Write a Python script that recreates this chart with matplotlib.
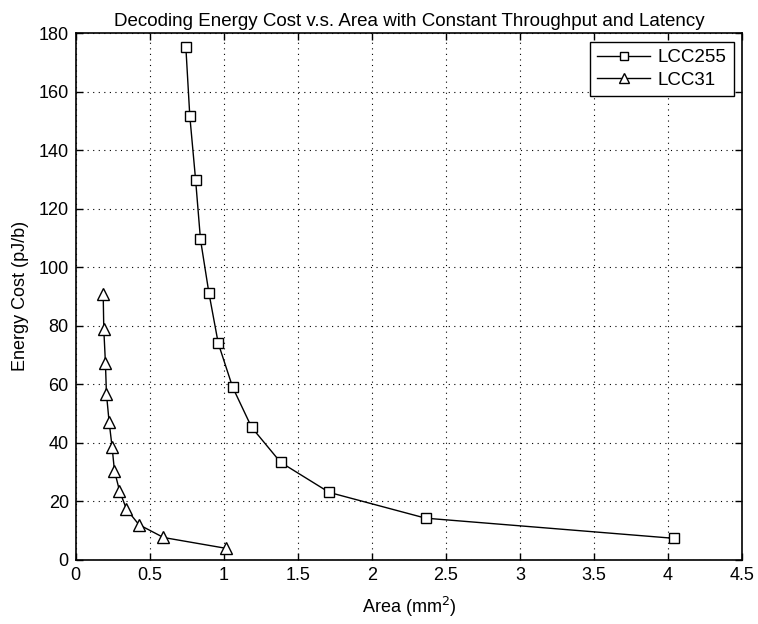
import matplotlib.pyplot as plt

plt.rcParams['font.family'] = ['Liberation Sans', 'DejaVu Sans']

# LCC255 curve
area_255 = [0.743, 0.770, 0.809, 0.842, 0.899, 0.962, 1.059, 1.187, 1.383, 1.712, 2.363, 4.043]
energy_255 = [175.4, 151.6, 129.9, 109.5, 91.2, 74.0, 59.0, 45.3, 33.3, 23.0, 14.2, 7.3]

# LCC31 curve
area_31 = [0.185, 0.189, 0.200, 0.207, 0.225, 0.245, 0.261, 0.295, 0.342, 0.426, 0.592, 1.014]
energy_31 = [90.9, 78.8, 67.4, 56.7, 47.1, 38.6, 30.4, 23.6, 17.3, 12.0, 7.6, 3.9]

xticks = [0, 0.5, 1, 1.5, 2, 2.5, 3, 3.5, 4, 4.5]
xticklabels = ['0', '0.5', '1', '1.5', '2', '2.5', '3', '3.5', '4', '4.5']
yticks = [0, 20, 40, 60, 80, 100, 120, 140, 160, 180]

fig = plt.figure(figsize=(7.58, 6.24), dpi=100)
ax = fig.add_axes([0.100, 0.103, 0.879, 0.844])

ax.plot(area_255, energy_255, color='black', lw=1.0, marker='s', ms=7,
        mfc='white', mec='black', mew=1.0, label='LCC255')
ax.plot(area_31, energy_31, color='black', lw=1.0, marker='^', ms=9,
        mfc='white', mec='black', mew=1.0, label='LCC31')

ax.set_xlim(0, 4.5)
ax.set_ylim(0, 180)
ax.set_xticks(xticks)
ax.set_xticklabels(xticklabels)
ax.set_yticks(yticks)
ax.tick_params(direction='in', top=True, right=True, labelsize=13, length=5, width=1, pad=5)
for s in ax.spines.values():
    s.set_linewidth(1.2)
ax.grid(True, linestyle=(0, (1, 4)), color='black', linewidth=0.8)

ax.set_title('Decoding Energy Cost v.s. Area with Constant Throughput and Latency', fontsize=13.5, pad=5)
ax.set_xlabel('Area (mm$^2$)', fontsize=13, labelpad=8)
ax.set_ylabel('Energy Cost (pJ/b)', fontsize=13, labelpad=7)

leg = ax.legend(loc='upper right', fontsize=13.5, fancybox=False, framealpha=1,
                edgecolor='black', handlelength=2.8, borderaxespad=0.45,
                handletextpad=0.4, labelspacing=0.3, borderpad=0.4, markerscale=0.85)
leg.get_frame().set_linewidth(1.0)

fig.savefig('out.png', dpi=100)
